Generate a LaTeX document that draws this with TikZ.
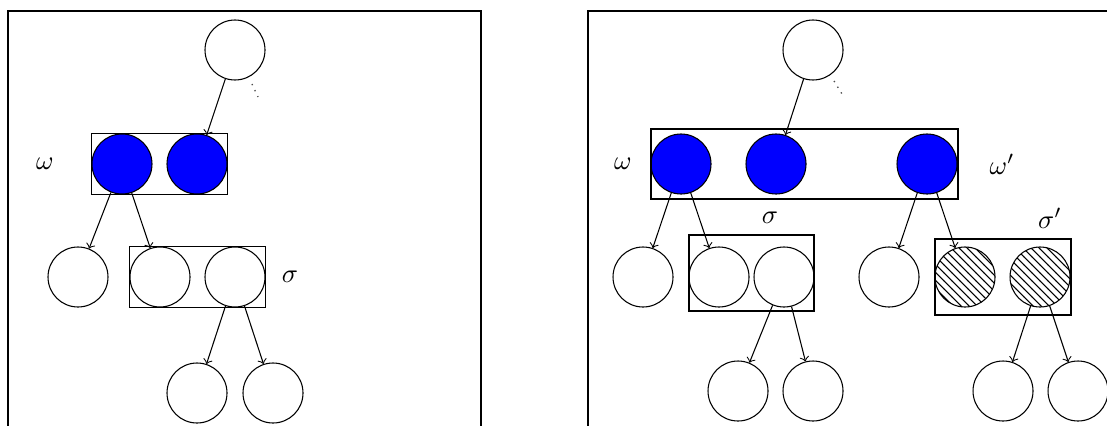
\documentclass[tikz,border=0pt]{standalone}
\usetikzlibrary{patterns,fit}
\begin{document}
\begin{tikzpicture}[x=0.375pt,y=-0.375pt,
  vtx/.style={circle,draw,minimum size=22.5pt,inner sep=0pt},
  bluevtx/.style={vtx,fill=blue},
  hatchvtx/.style={vtx,pattern=north west lines},
  grp/.style={draw,rectangle,inner sep=0pt},
  edge/.style={->},
  lbl/.style={inner sep=0pt},
  more/.style={dotted,black!70,line width=0.5pt}]
\useasboundingbox (0,0) rectangle (1107,425);
\clip (0,0) rectangle (1107,425);
% frames
\draw (8,600) -- (8,11) -- (481,11) -- (481,600);
\draw (588,600) -- (588,11) -- (1300,11);
% ---------- left panel ----------
\node[vtx] (t1) at (235,50) {};
\draw[more] (252,84) -- (258,97);
\node[bluevtx] (b1) at (122,164) {};
\node[bluevtx] (b2) at (197,164) {};
\node[grp,fit=(b1)(b2)] (g1) {};
\node[lbl] (w1) at (45,164) {$\omega$};
\node[vtx] (c1) at (78,277) {};
\node[vtx] (c2) at (160,277) {};
\node[vtx] (c3) at (235,277) {};
\node[grp,fit=(c2)(c3)] (g2) {};
\node[lbl] (s1) at (290,277) {$\sigma$};
\node[vtx] (d1) at (197,393) {};
\node[vtx] (d2) at (273,393) {};
\draw[edge] (t1) -- (b2);
\draw[edge] (b1) -- (c1);
\draw[edge] (b1) -- (c2);
\draw[edge] (c3) -- (d1);
\draw[edge] (c3) -- (d2);
% ---------- right panel ----------
\node[vtx] (T) at (813,50) {};
\draw[more] (834,81) -- (842,94);
\node[bluevtx] (B1) at (681,164) {};
\node[bluevtx] (B2) at (776,164) {};
\node[bluevtx] (B3) at (927,164) {};
\draw (651,129) rectangle (958,199);
\node[lbl] (W1) at (623,164) {$\omega$};
\node[lbl] (W2) at (1002,164) {$\omega'$};
\node[vtx] (C1) at (643,277) {};
\node[vtx] (C2) at (719,277) {};
\node[vtx] (C3) at (784,277) {};
\draw (689,235) rectangle (814,311);
\node[lbl] (S1) at (770,218) {$\sigma$};
\node[vtx] (C4) at (889,277) {};
\node[hatchvtx] (H1) at (965,277) {};
\node[hatchvtx] (H2) at (1040,277) {};
\draw (935,239) rectangle (1071,315);
\node[lbl] (S2) at (1050,218) {$\sigma'$};
\node[vtx] (D1) at (738,391) {};
\node[vtx] (D2) at (813,391) {};
\node[vtx] (D3) at (1003,391) {};
\node[vtx] (D4) at (1078,391) {};
\draw[edge] (T) -- (B2);
\draw[edge] (B1) -- (C1);
\draw[edge] (B1) -- (C2);
\draw[edge] (B3) -- (C4);
\draw[edge] (B3) -- (H1);
\draw[edge] (C3) -- (D1);
\draw[edge] (C3) -- (D2);
\draw[edge] (H2) -- (D3);
\draw[edge] (H2) -- (D4);
\end{tikzpicture}
\end{document}
